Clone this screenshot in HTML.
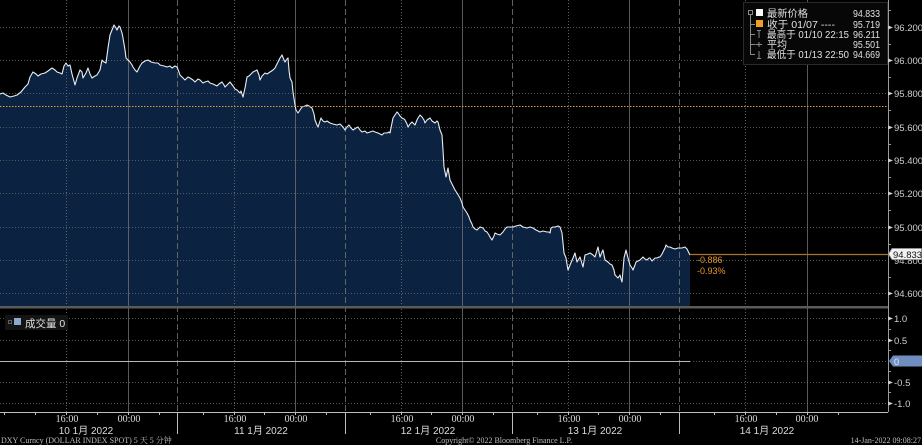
<!DOCTYPE html>
<html><head><meta charset="utf-8"><style>
html,body{margin:0;padding:0;background:#000;}
svg{display:block;}
text{font-family:"Liberation Sans","Noto Sans CJK SC",sans-serif;}
</style></head><body>
<svg width="922" height="445" viewBox="0 0 922 445" xmlns="http://www.w3.org/2000/svg">
<rect x="0" y="0" width="922" height="445" fill="#000"/>
<!-- area fill -->
<path fill="#0b2240" stroke="none" d="M0,306 L0,94 3,93 6,95 10,97 14,96 17,95 21,92 25,87 28,84 30,77 33,72 36,74 38,76 41,74 45,73 48,71 52,68 55,70 57,72 60,73 62,74 64,66 66,63 68,66 70,65 72,74 75,85 77,78 80,70 82,72 83,78 86,73 88,68 90,74 92,78 95,76 97,75 100,70 102,60 104,62 106,63 108,48 110,35 112,30 114,25 116,28 117,30 119,26 120,27 122,33 123,38 125,50 126,58 128,60 130,62 132,65 133,67 135,70 137,72 140,66 142,63 145,61 148,60 151,62 155,63 158,63 160,65 164,66 167,67 170,66 172,68 175,66 177,67 179,72 180,75 183,78 185,80 188,77 190,78 193,80 195,82 198,79 200,80 203,83 205,82 208,81 210,83 213,84 217,86 219,84 222,82 224,85 225,87 228,84 230,82 233,86 235,89 237,90 240,93 241,91 243,97 245,88 247,77 249,76 250,75 252,73 253,72 255,71 257,70 259,75 260,80 262,76 265,73 267,74 270,72 273,70 275,68 277,64 278,62 280,58 282,55 284,60 285,62 287,59 288,58 289,70 290,78 292,82 293,92 295,105 296,110 298,113 300,110 302,107 305,106 307,105 309,106 312,108 314,114 315,120 317,125 318,127 320,121 321,118 323,121 325,122 327,121 330,123 333,124 337,125 340,124 343,127 345,130 347,127 349,125 351,128 353,130 356,128 358,127 360,130 362,132 365,131 367,133 370,132 373,131 375,132 378,133 382,135 384,133 387,133 389,132 390,133 392,123 393,118 395,115 397,112 398,113 400,116 402,118 404,119 405,120 407,124 408,127 410,124 412,122 414,124 415,125 417,120 418,118 420,115 422,117 424,120 425,123 427,120 430,118 432,121 435,123 437,121 438,122 440,130 442,135 443,150 444,167 446,177 448,168 450,180 452,184 455,190 457,193 460,198 462,203 463,207 465,210 467,213 469,217 470,220 472,224 473,227 475,229 477,230 479,228 480,227 483,228 485,231 487,232 489,235 490,237 492,240 494,236 495,233 497,234 500,235 502,233 503,232 505,229 507,227 510,227 513,227 516,226 520,225 523,227 527,228 530,227 533,228 536,230 540,232 543,231 547,232 549,232 550,233 551,228 553,227 555,227 558,226 560,227 562,233 564,253 566,258 568,270 570,265 573,258 575,253 577,262 580,257 583,267 585,255 588,254 590,253 593,255 595,257 598,247 600,257 602,252 603,250 605,260 608,262 610,264 612,265 614,270 615,275 617,277 618,278 620,275 621,279 622,282 623,270 624,258 626,250 628,258 630,265 632,268 633,270 635,265 636,262 638,261 640,260 642,258 643,257 645,259 647,260 649,258 650,258 652,261 653,260 655,258 657,258 659,257 660,257 662,254 663,252 665,248 666,245 668,247 670,247 672,248 675,249 678,248 680,248 682,248 685,247 687,249 689,253 690,255 L690,306 Z"/>

<!-- horizontal grid main -->
<g stroke="#6a6a6a" stroke-width="1" stroke-dasharray="1,2" opacity="0.8">
<line x1="0" y1="27.5" x2="888" y2="27.5"/>
<line x1="0" y1="60.5" x2="888" y2="60.5"/>
<line x1="0" y1="93.5" x2="888" y2="93.5"/>
<line x1="0" y1="127.5" x2="888" y2="127.5"/>
<line x1="0" y1="160.5" x2="888" y2="160.5"/>
<line x1="0" y1="193.5" x2="888" y2="193.5"/>
<line x1="0" y1="227.5" x2="888" y2="227.5"/>
<line x1="0" y1="260.5" x2="888" y2="260.5"/>
<line x1="0" y1="293.5" x2="888" y2="293.5"/>
<line x1="0" y1="318.5" x2="888" y2="318.5"/>
<line x1="0" y1="340.5" x2="888" y2="340.5"/>
<line x1="690" y1="361.5" x2="888" y2="361.5"/>
<line x1="0" y1="382.5" x2="888" y2="382.5"/>
<line x1="0" y1="403.5" x2="888" y2="403.5"/>
</g>

<!-- vertical grid -->
<g stroke="#777" stroke-width="1">
<g stroke-dasharray="1,2" opacity="0.8">
<line x1="66.5" y1="0" x2="66.5" y2="412"/>
<line x1="234.5" y1="0" x2="234.5" y2="412"/>
<line x1="401.5" y1="0" x2="401.5" y2="412"/>
<line x1="568.5" y1="0" x2="568.5" y2="412"/>
<line x1="745.5" y1="0" x2="745.5" y2="412"/>
</g>
<g opacity="0.75">
<line x1="128.5" y1="0" x2="128.5" y2="412"/>
<line x1="295.5" y1="0" x2="295.5" y2="412"/>
<line x1="462.5" y1="0" x2="462.5" y2="412"/>
<line x1="629.5" y1="0" x2="629.5" y2="412"/>
<line x1="807.5" y1="0" x2="807.5" y2="412"/>
</g>
<g stroke-dasharray="6,3" opacity="0.8">
<line x1="177.5" y1="0" x2="177.5" y2="412"/>
<line x1="345.5" y1="0" x2="345.5" y2="412"/>
<line x1="512.5" y1="0" x2="512.5" y2="412"/>
<line x1="679.5" y1="0" x2="679.5" y2="412"/>
</g>
</g>

<!-- price line -->
<polyline fill="none" stroke="#e8eef5" stroke-width="1.1" stroke-linejoin="round" points="0,94 3,93 6,95 10,97 14,96 17,95 21,92 25,87 28,84 30,77 33,72 36,74 38,76 41,74 45,73 48,71 52,68 55,70 57,72 60,73 62,74 64,66 66,63 68,66 70,65 72,74 75,85 77,78 80,70 82,72 83,78 86,73 88,68 90,74 92,78 95,76 97,75 100,70 102,60 104,62 106,63 108,48 110,35 112,30 114,25 116,28 117,30 119,26 120,27 122,33 123,38 125,50 126,58 128,60 130,62 132,65 133,67 135,70 137,72 140,66 142,63 145,61 148,60 151,62 155,63 158,63 160,65 164,66 167,67 170,66 172,68 175,66 177,67 179,72 180,75 183,78 185,80 188,77 190,78 193,80 195,82 198,79 200,80 203,83 205,82 208,81 210,83 213,84 217,86 219,84 222,82 224,85 225,87 228,84 230,82 233,86 235,89 237,90 240,93 241,91 243,97 245,88 247,77 249,76 250,75 252,73 253,72 255,71 257,70 259,75 260,80 262,76 265,73 267,74 270,72 273,70 275,68 277,64 278,62 280,58 282,55 284,60 285,62 287,59 288,58 289,70 290,78 292,82 293,92 295,105 296,110 298,113 300,110 302,107 305,106 307,105 309,106 312,108 314,114 315,120 317,125 318,127 320,121 321,118 323,121 325,122 327,121 330,123 333,124 337,125 340,124 343,127 345,130 347,127 349,125 351,128 353,130 356,128 358,127 360,130 362,132 365,131 367,133 370,132 373,131 375,132 378,133 382,135 384,133 387,133 389,132 390,133 392,123 393,118 395,115 397,112 398,113 400,116 402,118 404,119 405,120 407,124 408,127 410,124 412,122 414,124 415,125 417,120 418,118 420,115 422,117 424,120 425,123 427,120 430,118 432,121 435,123 437,121 438,122 440,130 442,135 443,150 444,167 446,177 448,168 450,180 452,184 455,190 457,193 460,198 462,203 463,207 465,210 467,213 469,217 470,220 472,224 473,227 475,229 477,230 479,228 480,227 483,228 485,231 487,232 489,235 490,237 492,240 494,236 495,233 497,234 500,235 502,233 503,232 505,229 507,227 510,227 513,227 516,226 520,225 523,227 527,228 530,227 533,228 536,230 540,232 543,231 547,232 549,232 550,233 551,228 553,227 555,227 558,226 560,227 562,233 564,253 566,258 568,270 570,265 573,258 575,253 577,262 580,257 583,267 585,255 588,254 590,253 593,255 595,257 598,247 600,257 602,252 603,250 605,260 608,262 610,264 612,265 614,270 615,275 617,277 618,278 620,275 621,279 622,282 623,270 624,258 626,250 628,258 630,265 632,268 633,270 635,265 636,262 638,261 640,260 642,258 643,257 645,259 647,260 649,258 650,258 652,261 653,260 655,258 657,258 659,257 660,257 662,254 663,252 665,248 666,245 668,247 670,247 672,248 675,249 678,248 680,248 682,248 685,247 687,249 689,253 690,255"/>

<!-- previous close orange dotted -->
<line x1="0" y1="106.5" x2="888" y2="106.5" stroke="#e09a3a" stroke-width="1" stroke-dasharray="1.5,1.5"/>
<!-- last price line -->
<line x1="690" y1="254.5" x2="888" y2="254.5" stroke="#a8742c" stroke-width="1.2"/>
<text x="697" y="263" font-size="9" fill="#e8952a">-0.886</text>
<text x="697" y="274" font-size="9" fill="#e8952a">-0.93%</text>

<!-- panel separator -->
<rect x="0" y="306" width="888" height="2.5" fill="#5a5a5a"/>
<!-- volume zero line -->
<line x1="0" y1="361.5" x2="690" y2="361.5" stroke="#b8b8b8" stroke-width="1"/>

<!-- right axis -->
<line x1="888.5" y1="0" x2="888.5" y2="412" stroke="#9a9a9a" stroke-width="1"/>
<g stroke="#9a9a9a" stroke-width="1">
<line x1="888" y1="10.5" x2="891" y2="10.5"/>
<line x1="888" y1="44.5" x2="891" y2="44.5"/>
<line x1="888" y1="77.5" x2="891" y2="77.5"/>
<line x1="888" y1="110.5" x2="891" y2="110.5"/>
<line x1="888" y1="144.5" x2="891" y2="144.5"/>
<line x1="888" y1="177.5" x2="891" y2="177.5"/>
<line x1="888" y1="210.5" x2="891" y2="210.5"/>
<line x1="888" y1="244.5" x2="891" y2="244.5"/>
<line x1="888" y1="277.5" x2="891" y2="277.5"/>
<line x1="888" y1="329.5" x2="891" y2="329.5"/>
<line x1="888" y1="350.5" x2="891" y2="350.5"/>
<line x1="888" y1="371.5" x2="891" y2="371.5"/>
<line x1="888" y1="392.5" x2="891" y2="392.5"/>
</g>
<g fill="#cfcfcf" font-size="9.5">
<path d="M888,25.5 L893,27.5 L888,29.5 Z"/><text x="894" y="31">96.200</text>
<path d="M888,58.5 L893,60.5 L888,62.5 Z"/><text x="894" y="64">96.000</text>
<path d="M888,91.5 L893,93.5 L888,95.5 Z"/><text x="894" y="97">95.800</text>
<path d="M888,125.5 L893,127.5 L888,129.5 Z"/><text x="894" y="131">95.600</text>
<path d="M888,158.5 L893,160.5 L888,162.5 Z"/><text x="894" y="164">95.400</text>
<path d="M888,191.5 L893,193.5 L888,195.5 Z"/><text x="894" y="197">95.200</text>
<path d="M888,225.5 L893,227.5 L888,229.5 Z"/><text x="894" y="231">95.000</text>
<text x="894" y="264">94.800</text>
<path d="M888,291.5 L893,293.5 L888,295.5 Z"/><text x="894" y="297">94.600</text>
<path d="M888,316.5 L893,318.5 L888,320.5 Z"/><text x="894" y="322">1.0</text>
<path d="M888,338.5 L893,340.5 L888,342.5 Z"/><text x="894" y="344">0.5</text>
<path d="M888,380.5 L893,382.5 L888,384.5 Z"/><text x="894" y="386">-0.5</text>
<path d="M888,401.5 L893,403.5 L888,405.5 Z"/><text x="894" y="407">-1.0</text>
</g>
<!-- last price label -->
<path d="M888.5,254 L892,248.5 L921.5,248.5 L921.5,259.5 L892,259.5 Z" fill="#f2f2f2" stroke="#9a9a9a" stroke-width="0.8"/>
<text x="893" y="258" font-size="9.5" fill="#111">94.833</text>
<!-- volume label -->
<path d="M889,361 L893,355.5 L922,355.5 L922,366.5 L893,366.5 Z" fill="#6f8dbf"/>
<text x="894" y="365" font-size="9" fill="#eef">0</text>

<!-- x axis -->
<line x1="0" y1="412.5" x2="888" y2="412.5" stroke="#bdbdbd" stroke-width="1"/>
<g stroke="#bdbdbd" stroke-width="1">
<line x1="4.5" y1="412" x2="4.5" y2="415"/>
<line x1="35.5" y1="412" x2="35.5" y2="415"/>
<line x1="66.5" y1="412" x2="66.5" y2="415"/>
<line x1="97.5" y1="412" x2="97.5" y2="415"/>
<line x1="128.5" y1="412" x2="128.5" y2="415"/>
<line x1="159.5" y1="412" x2="159.5" y2="415"/>
<line x1="203.5" y1="412" x2="203.5" y2="415"/>
<line x1="234.5" y1="412" x2="234.5" y2="415"/>
<line x1="264.5" y1="412" x2="264.5" y2="415"/>
<line x1="295.5" y1="412" x2="295.5" y2="415"/>
<line x1="326.5" y1="412" x2="326.5" y2="415"/>
<line x1="370.5" y1="412" x2="370.5" y2="415"/>
<line x1="401.5" y1="412" x2="401.5" y2="415"/>
<line x1="431.5" y1="412" x2="431.5" y2="415"/>
<line x1="462.5" y1="412" x2="462.5" y2="415"/>
<line x1="493.5" y1="412" x2="493.5" y2="415"/>
<line x1="537.5" y1="412" x2="537.5" y2="415"/>
<line x1="568.5" y1="412" x2="568.5" y2="415"/>
<line x1="598.5" y1="412" x2="598.5" y2="415"/>
<line x1="629.5" y1="412" x2="629.5" y2="415"/>
<line x1="660.5" y1="412" x2="660.5" y2="415"/>
<line x1="714.5" y1="412" x2="714.5" y2="415"/>
<line x1="745.5" y1="412" x2="745.5" y2="415"/>
<line x1="776.5" y1="412" x2="776.5" y2="415"/>
<line x1="807.5" y1="412" x2="807.5" y2="415"/>
<line x1="838.5" y1="412" x2="838.5" y2="415"/>
<line x1="177.5" y1="412" x2="177.5" y2="434"/>
<line x1="345.5" y1="412" x2="345.5" y2="434"/>
<line x1="512.5" y1="412" x2="512.5" y2="434"/>
<line x1="679.5" y1="412" x2="679.5" y2="434"/>
</g>
<g fill="#dcdcdc" font-size="10" text-anchor="middle">
<text x="67" y="422" style="font-family:'Liberation Serif',serif">16:00</text>
<text x="129" y="422" style="font-family:'Liberation Serif',serif">00:00</text>
<text x="235" y="422" style="font-family:'Liberation Serif',serif">16:00</text>
<text x="296" y="422" style="font-family:'Liberation Serif',serif">00:00</text>
<text x="402" y="422" style="font-family:'Liberation Serif',serif">16:00</text>
<text x="463" y="422" style="font-family:'Liberation Serif',serif">00:00</text>
<text x="569" y="422" style="font-family:'Liberation Serif',serif">16:00</text>
<text x="630" y="422" style="font-family:'Liberation Serif',serif">00:00</text>
<text x="746" y="422" style="font-family:'Liberation Serif',serif">16:00</text>
<text x="807" y="422" style="font-family:'Liberation Serif',serif">00:00</text>
</g>
<g fill="#dcdcdc" font-size="10" text-anchor="middle">
<text x="86" y="434">10 1月 2022</text>
<text x="261" y="434">11 1月 2022</text>
<text x="428" y="434">12 1月 2022</text>
<text x="595" y="434">13 1月 2022</text>
<text x="767" y="434">14 1月 2022</text>
</g>

<!-- footer -->
<g fill="#bdbdbd" font-size="8">
<text x="1" y="443" style="font-family:'Liberation Serif','Noto Serif CJK SC',serif">DXY Curncy (DOLLAR INDEX SPOT) 5 天 5 分钟</text>
<text x="504" y="443" text-anchor="middle" style="font-family:'Liberation Serif',serif">Copyright© 2022 Bloomberg Finance L.P.</text>
<text x="921" y="443" text-anchor="end" style="font-family:'Liberation Serif',serif">14-Jan-2022 09:08:27</text>
</g>

<!-- main legend -->
<rect x="743.5" y="2.5" width="144" height="62" fill="#070707" stroke="#2a2a2a" stroke-width="1"/>
<g stroke="#8a8a8a" stroke-width="1" fill="none">
<rect x="748.5" y="10.5" width="4" height="4"/>
<line x1="750.5" y1="15" x2="750.5" y2="55"/>
<line x1="750.5" y1="24.5" x2="755" y2="24.5"/>
<line x1="750.5" y1="34.5" x2="755" y2="34.5"/>
<line x1="750.5" y1="44.5" x2="755" y2="44.5"/>
<line x1="750.5" y1="54.5" x2="755" y2="54.5"/>
<line x1="757" y1="30.5" x2="761" y2="30.5"/>
<line x1="759" y1="30.5" x2="759" y2="38"/>
<line x1="755.5" y1="44.5" x2="762" y2="44.5"/>
<line x1="759" y1="42" x2="759" y2="47"/>
<line x1="759" y1="51" x2="759" y2="58"/>
<line x1="757" y1="58.5" x2="761" y2="58.5"/>
</g>
<rect x="756" y="9" width="7" height="7" fill="#fafafa"/>
<rect x="756" y="20" width="7" height="7" fill="#f0a020"/>
<g fill="#e0e0e0" font-size="10">
<text x="767" y="17" textLength="41" lengthAdjust="spacingAndGlyphs">最新价格</text>
<text x="767" y="28" textLength="68" lengthAdjust="spacingAndGlyphs">收于 01/07 ----</text>
<text x="767" y="38" textLength="82" lengthAdjust="spacingAndGlyphs">最高于 01/10 22:15</text>
<text x="767" y="48" textLength="20" lengthAdjust="spacingAndGlyphs">平均</text>
<text x="767" y="58" textLength="82" lengthAdjust="spacingAndGlyphs">最低于 01/13 22:50</text>
</g>
<g fill="#e0e0e0" font-size="10">
<text x="853" y="17" textLength="27" lengthAdjust="spacingAndGlyphs">94.833</text>
<text x="853" y="28" textLength="27" lengthAdjust="spacingAndGlyphs">95.719</text>
<text x="853" y="38" textLength="27" lengthAdjust="spacingAndGlyphs">96.211</text>
<text x="853" y="48" textLength="27" lengthAdjust="spacingAndGlyphs">95.501</text>
<text x="853" y="58" textLength="27" lengthAdjust="spacingAndGlyphs">94.669</text>
</g>

<!-- volume legend -->
<rect x="5" y="315" width="63" height="15" fill="#141414"/>
<rect x="8.5" y="320.5" width="3" height="3" fill="none" stroke="#777" stroke-width="0.8"/>
<rect x="14" y="318" width="7" height="7" fill="#8fa8d0"/>
<text x="25" y="327" font-size="10.5" fill="#e0e0e0">成交量 0</text>
</svg>
</body></html>
